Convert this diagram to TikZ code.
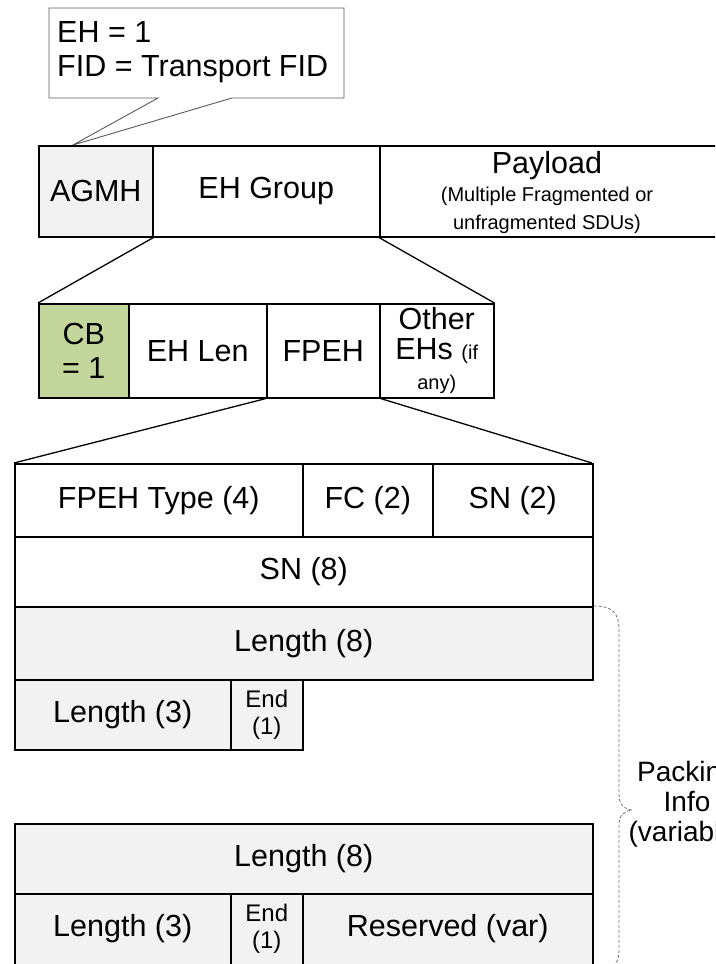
\documentclass[tikz,border=0pt]{standalone}
\usepackage{fontspec}
\setmainfont{Liberation Sans}
\definecolor{cellgray}{RGB}{242,242,242}
\definecolor{cbgreen}{RGB}{195,214,155}
\definecolor{callgray}{RGB}{90,90,90}
\newcommand\mainsz{\fontsize{30.5}{34}\selectfont}
\newcommand\smallsz{\fontsize{20}{28}\selectfont}
\newcommand\fieldsz{\fontsize{24}{27}\selectfont}
\begin{document}
\begin{tikzpicture}[x=1pt,y=-1pt,
  cell/.style={draw=black, line width=1.5pt, anchor=north west, inner sep=0pt, align=center, font=\mainsz},
  grey/.style={fill=cellgray},
  zoomline/.style={draw=black, line width=1.3pt},
  brace/.style={draw=black!55, line width=0.8pt, dash pattern=on 3pt off 2pt},
  txt/.style={inner sep=0pt, align=center, font=\mainsz}]
\useasboundingbox (0,0) rectangle (715,964);
\clip (0,0) rectangle (715,964);

% callout
\draw[callgray, line width=0.9pt, fill=white] (49,8) -- (344,8) -- (344,98) -- (232,98) -- (73,145) -- (158,98) -- (49,98) -- cycle;
\node[anchor=north west, inner sep=0pt, align=left, font=\mainsz] (callout) at (57,21) {EH = 1\\[0pt]FID = Transport FID};

% top row
\node[cell, grey, minimum width=114pt, minimum height=91pt] (agmh) at (38,145) {AGMH};
\node[cell, minimum width=227pt, minimum height=91pt] (ehg) at (152,145) {EH Group};
\node[cell, minimum width=350pt, minimum height=91pt] (pay) at (379,145) {};
\node[txt, font=\smallsz] (paytxt) at (547,193) {{\mainsz Payload}\\(Multiple Fragmented or\\unfragmented SDUs)};

% second row
\node[cell, fill=cbgreen, minimum width=90pt, minimum height=94pt] (cb) at (38,303) {CB\\= 1};
\node[cell, minimum width=138pt, minimum height=94pt] (ehlen) at (128,303) {EH Len};
\node[cell, minimum width=113pt, minimum height=94pt] (fpeh) at (266,303) {FPEH};
\node[cell, minimum width=114pt, minimum height=94pt, font=\fontsize{30.5}{30}\selectfont] (other) at (379,303) {Other\\EHs {\smallsz (if}\\{\smallsz any)}};

% zoom lines
\draw[zoomline] (agmh.south east) -- (cb.north west);
\draw[zoomline] (pay.south west) -- (other.north east);
\draw[zoomline] (fpeh.south west) -- (14,463) coordinate (t1);
\draw[zoomline] (fpeh.south east) -- (592,463) coordinate (t2);

% FPEH table
\node[cell, minimum width=288pt, minimum height=73pt] (ftype) at (14,463) {FPEH Type (4)};
\node[cell, minimum width=130pt, minimum height=73pt] (fc) at (302,463) {FC (2)};
\node[cell, minimum width=160pt, minimum height=73pt] (sn2) at (432,463) {SN (2)};
\node[cell, minimum width=578pt, minimum height=70pt] (sn8) at (14,536) {SN (8)};
\node[cell, grey, minimum width=578pt, minimum height=73pt] (len8a) at (14,606) {Length (8)};
\node[cell, grey, minimum width=216pt, minimum height=70pt] (len3a) at (14,679) {Length (3)};
\node[cell, grey, minimum width=72pt, minimum height=70pt, font=\fieldsz] (enda) at (230,679) {End\\(1)};

\node[cell, grey, minimum width=578pt, minimum height=70pt] (len8b) at (14,823) {Length (8)};
\node[cell, grey, minimum width=216pt, minimum height=82pt, label={[txt, yshift=6pt]center:Length (3)}] (len3b) at (14,893) {};
\node[cell, grey, minimum width=72pt, minimum height=82pt, label={[txt, font=\fieldsz, yshift=6pt]center:End\\(1)}] (endb) at (230,893) {};
\node[cell, grey, minimum width=290pt, minimum height=82pt, label={[txt, yshift=6pt]center:Reserved (var)}] (res) at (302,893) {};

% brace
\draw[brace] (len8a.north east) .. controls (612,606) and (619,612) .. (619,630)
  -- (619,794) .. controls (619,805) and (624,809) .. (632,810)
  .. controls (624,811) and (619,815) .. (619,826)
  -- (619,950) .. controls (619,962) and (615,966) .. (606,970);
\node[txt, font=\fontsize{28}{30}\selectfont] (packing) at (687,804) {Packing\\Info\\(variable)};
\end{tikzpicture}
\end{document}
